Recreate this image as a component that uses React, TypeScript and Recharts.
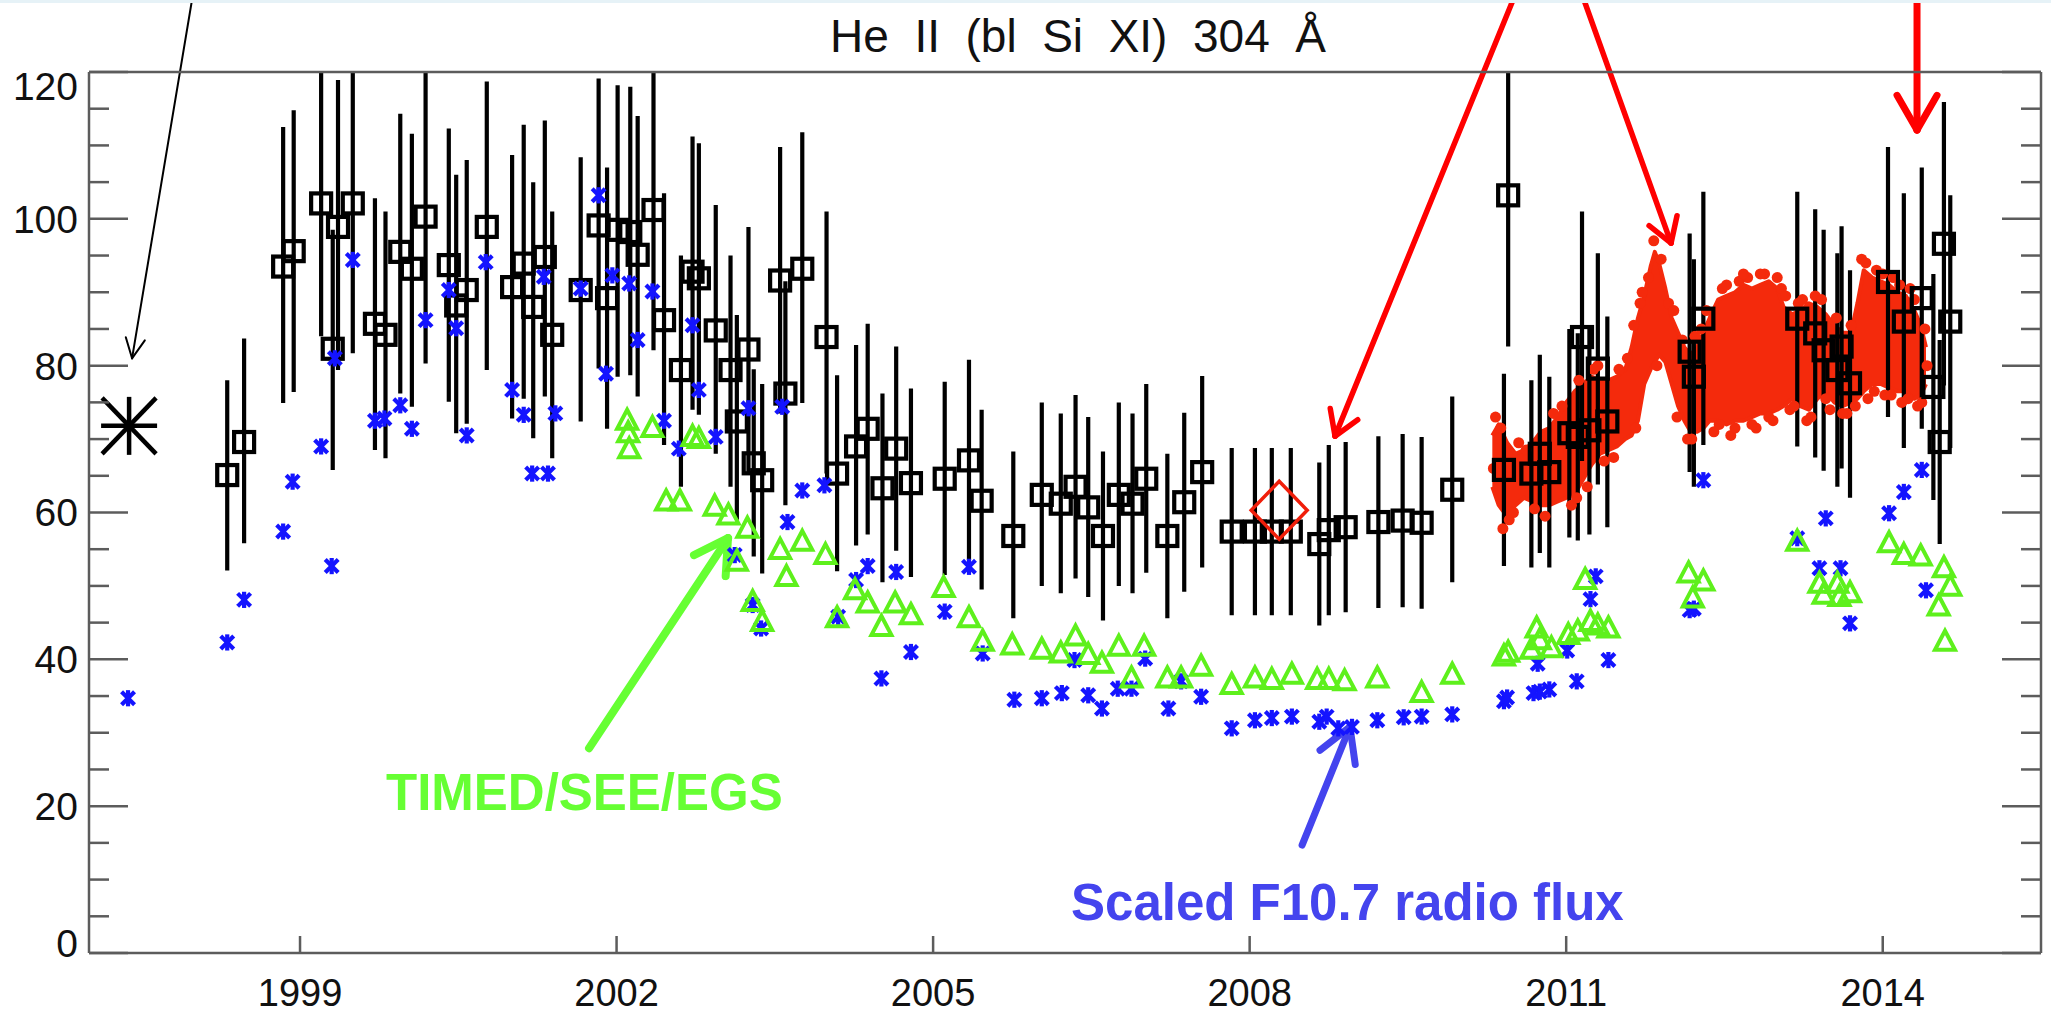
import React from "react";
import { ComposedChart, XAxis, YAxis, Scatter, ErrorBar, Area, ReferenceLine } from "recharts";

// ---------------- data ----------------
const X_TICKS = [1999, 2002, 2005, 2008, 2011, 2014];
const Y_TICKS = [0, 5, 10, 15, 20, 25, 30, 35, 40, 45, 50, 55, 60, 65, 70, 75, 80, 85, 90, 95, 100, 105, 110, 115, 120];
const Y_LABELED = [0, 20, 40, 60, 80, 100, 120];

const TITLE = "He  II  (bl  Si  XI)  304  Å";
const LABEL_TIMED = "TIMED/SEE/EGS";
const LABEL_F107 = "Scaled F10.7 radio flux";

// black open squares: [year, flux, error bar low end, error bar high end (120 = runs to the frame)]
const EUV_SQUARES: number[][] = [
  [1998.31, 65.1, 52.1, 78.0], [1998.47, 69.6, 55.8, 83.7], [1998.84, 93.5, 74.9, 112.5], [1998.94, 95.6, 76.4, 114.8],
  [1999.2, 102.1, 84.0, 120], [1999.31, 82.3, 65.8, 98.5], [1999.36, 98.9, 79.4, 118.9], [1999.5, 102.1, 81.7, 120],
  [1999.71, 85.7, 68.5, 102.8], [1999.81, 84.2, 67.4, 101.0], [1999.95, 95.5, 76.2, 114.3], [2000.06, 93.2, 74.4, 111.6],
  [2000.19, 100.3, 80.3, 120], [2000.41, 93.7, 75.1, 112.3], [2000.48, 88.2, 70.8, 106.0], [2000.58, 90.3, 72.1, 108.0],
  [2000.77, 98.9, 79.4, 118.7], [2001.01, 90.7, 72.8, 108.7], [2001.12, 93.9, 75.5, 112.8], [2001.21, 88.0, 70.1, 105.0],
  [2001.32, 94.8, 75.8, 113.4], [2001.39, 84.2, 67.4, 101.0], [2001.66, 90.3, 72.4, 108.4], [2001.83, 99.1, 79.6, 119.1],
  [2001.91, 89.2, 71.4, 107.0], [2002.01, 98.5, 78.5, 118.2], [2002.13, 98.2, 78.7, 118.0], [2002.2, 95.1, 75.8, 114.0],
  [2002.35, 101.2, 82.1, 120], [2002.45, 86.2, 69.2, 103.5], [2002.61, 79.4, 63.5, 95.0], [2002.72, 92.8, 74.0, 111.2],
  [2002.78, 91.9, 73.3, 110.3], [2002.94, 84.8, 68.0, 101.9], [2003.08, 79.4, 63.5, 95.0], [2003.14, 72.4, 59.0, 86.9],
  [2003.25, 82.2, 65.5, 98.9], [2003.3, 66.7, 54.0, 79.5], [2003.38, 64.4, 51.7, 77.5], [2003.55, 91.6, 73.5, 109.8],
  [2003.6, 76.2, 61.0, 91.5], [2003.76, 93.2, 74.9, 111.8], [2003.99, 83.9, 65.3, 101.0], [2004.09, 65.3, 52.0, 78.7],
  [2004.27, 69.0, 55.5, 82.8], [2004.38, 71.4, 57.0, 85.7], [2004.52, 63.3, 50.5, 76.2], [2004.65, 68.7, 54.8, 82.6],
  [2004.79, 64.0, 51.2, 76.9], [2005.11, 64.6, 51.5, 77.8], [2005.34, 67.1, 53.5, 80.8], [2005.46, 61.6, 49.5, 74.0],
  [2005.76, 56.8, 45.6, 68.3], [2006.03, 62.4, 50.0, 75.0], [2006.21, 61.2, 49.0, 73.5], [2006.35, 63.5, 51.0, 76.0],
  [2006.47, 60.7, 48.5, 73.0], [2006.61, 56.8, 45.3, 68.3], [2006.76, 62.4, 50.0, 75.0], [2006.89, 61.2, 49.0, 73.5],
  [2007.02, 64.6, 51.8, 77.5], [2007.22, 56.8, 45.6, 68.0], [2007.38, 61.4, 49.2, 73.6], [2007.55, 65.5, 52.5, 78.6],
  [2007.83, 57.4, 46.0, 68.8], [2008.05, 57.4, 46.0, 68.8], [2008.21, 57.4, 46.0, 68.8], [2008.39, 57.4, 46.0, 68.8],
  [2008.66, 55.7, 44.6, 66.8], [2008.75, 57.6, 46.0, 69.2], [2008.91, 58.0, 46.4, 69.6], [2009.22, 58.7, 47.0, 70.4],
  [2009.45, 58.9, 47.1, 70.7], [2009.63, 58.6, 46.9, 70.3], [2009.92, 63.1, 50.5, 75.8], [2010.41, 65.8, 52.7, 78.9],
  [2010.45, 103.2, 82.6, 120], [2010.67, 65.3, 52.5, 78.0], [2010.75, 68.0, 54.5, 81.5], [2010.84, 65.5, 52.5, 78.5],
  [2011.03, 70.8, 56.6, 85.0], [2011.11, 70.3, 56.2, 84.4], [2011.15, 83.9, 67.0, 101.0], [2011.22, 71.2, 57.0, 85.4],
  [2011.3, 79.6, 63.8, 95.3], [2011.39, 72.4, 58.0, 86.7], [2012.17, 81.9, 65.5, 98.0], [2012.21, 78.5, 63.5, 94.5],
  [2012.3, 86.4, 69.2, 103.7], [2013.19, 86.4, 69.0, 103.7], [2013.36, 84.4, 67.5, 101.3], [2013.44, 82.1, 65.7, 98.5],
  [2013.57, 79.4, 63.5, 95.3], [2013.61, 82.6, 66.0, 99.0], [2013.69, 77.6, 62.0, 93.0], [2014.05, 91.4, 73.0, 109.8],
  [2014.2, 86.0, 68.8, 103.5], [2014.37, 89.2, 71.4, 107.0], [2014.48, 77.1, 61.7, 92.5], [2014.54, 69.6, 55.7, 83.5],
  [2014.58, 96.6, 77.3, 115.9], [2014.64, 86.0, 68.8, 103.2],
];

// blue: scaled F10.7 radio flux [year, value]
const F107_SCALED: number[][] = [
  [1997.37, 34.7], [1998.31, 42.3], [1998.47, 48.1], [1998.84, 57.4], [1998.93, 64.2], [1999.2, 69.0], [1999.3, 52.7],
  [1999.33, 81.0], [1999.5, 94.4], [1999.71, 72.5], [1999.8, 72.8], [1999.95, 74.6], [2000.06, 71.4], [2000.19, 86.2],
  [2000.41, 90.3], [2000.48, 85.1], [2000.58, 70.5], [2000.76, 94.1], [2001.01, 76.7], [2001.12, 73.3], [2001.2, 65.3],
  [2001.31, 92.1], [2001.35, 65.3], [2001.42, 73.5], [2001.66, 90.5], [2001.83, 103.2], [2001.9, 78.9], [2001.96, 92.3],
  [2002.12, 91.2], [2002.2, 83.5], [2002.34, 90.1], [2002.45, 72.5], [2002.59, 68.7], [2002.72, 85.5], [2002.78, 76.7],
  [2002.94, 70.3], [2003.12, 54.2], [2003.25, 74.2], [2003.29, 47.4], [2003.37, 44.2], [2003.57, 74.4], [2003.62, 58.7],
  [2003.76, 63.0], [2003.97, 63.7], [2004.1, 45.8], [2004.27, 50.8], [2004.38, 52.7], [2004.51, 37.4], [2004.65, 51.9],
  [2004.79, 41.0], [2005.11, 46.5], [2005.34, 52.6], [2005.47, 40.8], [2005.77, 34.5], [2006.03, 34.7], [2006.22, 35.4],
  [2006.34, 39.9], [2006.47, 35.1], [2006.6, 33.3], [2006.75, 36.0], [2006.88, 36.0], [2007.01, 40.1], [2007.23, 33.3],
  [2007.35, 37.0], [2007.54, 34.9], [2007.83, 30.6], [2008.05, 31.7], [2008.21, 32.0], [2008.4, 32.2], [2008.66, 31.5],
  [2008.73, 32.2], [2008.84, 30.6], [2008.97, 30.8], [2009.21, 31.7], [2009.46, 32.1], [2009.63, 32.2], [2009.92, 32.5],
  [2010.41, 34.3], [2010.44, 34.8], [2010.69, 35.4], [2010.75, 35.6], [2010.84, 35.9], [2010.73, 39.4], [2011.01, 41.2],
  [2011.1, 37.0], [2011.23, 48.2], [2011.28, 51.3], [2011.4, 39.9], [2012.17, 46.7], [2012.21, 46.9], [2012.3, 64.4],
  [2013.19, 56.5], [2013.4, 52.4], [2013.46, 59.2], [2013.6, 52.4], [2013.69, 44.9], [2014.06, 59.9], [2014.2, 62.8],
  [2014.37, 65.8], [2014.41, 49.4],
];

// green: TIMED/SEE/EGS [year, value]
const TIMED_SEE: number[][] = [
  [2002.1, 72.5], [2002.11, 70.8], [2002.12, 68.6], [2002.34, 71.5], [2002.47, 61.5], [2002.6, 61.5], [2002.72, 70.3],
  [2002.78, 70.0], [2002.93, 60.8], [2003.06, 59.6], [2003.14, 53.3], [2003.24, 57.8], [2003.29, 47.8], [2003.38, 45.1],
  [2003.55, 54.9], [2003.61, 51.2], [2003.76, 56.0], [2003.98, 54.2], [2004.09, 45.6], [2004.26, 49.4], [2004.38, 47.6],
  [2004.51, 44.4], [2004.64, 47.6], [2004.79, 46.0], [2005.1, 49.7], [2005.34, 45.6], [2005.47, 42.4], [2005.75, 41.9],
  [2006.03, 41.3], [2006.21, 40.8], [2006.35, 43.1], [2006.47, 40.6], [2006.6, 39.4], [2006.76, 41.7], [2006.88, 37.4],
  [2007.0, 41.7], [2007.22, 37.4], [2007.35, 37.4], [2007.54, 39.0], [2007.83, 36.5], [2008.05, 37.4], [2008.21, 37.2],
  [2008.4, 37.9], [2008.64, 37.2], [2008.75, 37.2], [2008.9, 37.0], [2009.21, 37.4], [2009.63, 35.4], [2009.92, 37.9],
  [2010.41, 40.4], [2010.45, 40.9], [2010.67, 41.3], [2010.72, 44.2], [2010.75, 42.6], [2010.86, 41.5], [2011.02, 43.3],
  [2011.11, 43.8], [2011.18, 50.8], [2011.23, 45.1], [2011.3, 44.6], [2011.4, 44.2], [2012.16, 51.7], [2012.2, 48.3],
  [2012.3, 50.6], [2013.19, 56.0], [2013.4, 50.3], [2013.44, 48.8], [2013.57, 50.3], [2013.59, 48.5], [2013.69, 49.0],
  [2014.06, 55.8], [2014.2, 54.2], [2014.36, 54.0], [2014.53, 47.2], [2014.58, 52.4], [2014.59, 42.4], [2014.64, 49.9],
];

// red: dense daily measurements, core envelope [year, low, high]
const DAILY_BAND: number[][] = [
  [2010.3, 63.5, 70.5], [2010.36, 61, 72], [2010.44, 59.5, 69.5], [2010.52, 61, 68], [2010.6, 62, 68.5], [2010.68, 61.5, 69.5],
  [2010.76, 61, 71], [2010.84, 61, 71.5], [2010.92, 61.5, 73], [2011.0, 62, 75], [2011.08, 62.5, 76.5], [2011.16, 64.5, 77.5],
  [2011.24, 66.5, 78.5], [2011.32, 68, 78], [2011.4, 68.5, 78], [2011.48, 69, 78.5], [2011.56, 70, 79.5], [2011.62, 70.5, 82.5],
  [2011.68, 72.5, 86.5], [2011.74, 77.5, 89.5], [2011.8, 79.5, 93.5], [2011.84, 80.5, 95.5], [2011.88, 81.5, 94], [2011.94, 80.5, 90.5],
  [2012.0, 77.5, 86.5], [2012.06, 74.5, 84.5], [2012.12, 72.5, 82.5], [2012.18, 71, 81.5], [2012.24, 71, 82.5], [2012.3, 71.5, 84.5],
  [2012.36, 72.5, 86.5], [2012.44, 72.5, 89], [2012.52, 72, 89.5], [2012.6, 72.5, 90], [2012.68, 72.5, 91], [2012.76, 73, 90.5],
  [2012.84, 73.5, 91], [2012.92, 73.5, 91.5], [2013.0, 74, 90.5], [2013.06, 74.5, 88], [2013.14, 75.5, 87], [2013.22, 74.5, 87.5],
  [2013.3, 74, 88.5], [2013.38, 75.5, 88], [2013.46, 76.5, 87], [2013.54, 75, 85.5], [2013.62, 74.5, 84.5], [2013.7, 75, 84.5],
  [2013.76, 75.5, 88.5], [2013.82, 76.5, 93], [2013.9, 77.5, 92], [2013.98, 77.5, 91.5], [2014.06, 77, 91], [2014.14, 76.5, 90],
  [2014.22, 76.5, 89.5], [2014.3, 75.5, 87.5], [2014.36, 76, 85.5], [2014.41, 77.5, 82.5],
];

// red: individual daily points standing out along the band's ragged edges [year, value]
const DAILY_DOTS: number[][] = [
  [2010.33, 73.0], [2010.4, 57.8], [2010.46, 59.0], [2010.55, 69.5], [2010.7, 60.5], [2010.88, 73.5], [2011.05, 61.0],
  [2011.12, 78.0], [2011.2, 63.5], [2011.3, 80.0], [2011.45, 67.5], [2011.58, 81.0], [2011.64, 85.5], [2011.7, 88.5],
  [2011.78, 92.0], [2011.83, 97.0], [2011.9, 94.5], [2011.97, 88.5], [2012.05, 73.0], [2012.15, 70.0], [2012.22, 84.0],
  [2012.33, 87.5], [2012.4, 71.0], [2012.48, 90.5], [2012.56, 70.5], [2012.64, 91.5], [2012.72, 92.0], [2012.8, 71.5],
  [2012.88, 92.5], [2012.96, 72.5], [2013.04, 90.5], [2013.12, 74.0], [2013.2, 88.5], [2013.28, 72.5], [2013.36, 89.5],
  [2013.5, 74.0], [2013.66, 73.5], [2013.8, 94.5], [2013.86, 75.5], [2013.94, 93.0], [2014.02, 76.0], [2014.1, 92.0],
  [2014.18, 75.0], [2014.26, 90.5], [2014.33, 74.5], [2014.4, 85.0],
  [2010.31, 66.0], [2010.38, 71.5], [2010.5, 60.0], [2010.62, 68.5], [2010.8, 59.5], [2010.96, 74.5], [2011.1, 62.0],
  [2011.26, 79.5], [2011.36, 67.0], [2011.5, 79.5], [2011.66, 71.5], [2011.72, 90.0], [2011.86, 80.0], [2012.02, 87.5],
  [2012.1, 83.5], [2012.19, 70.0], [2012.28, 85.0], [2012.45, 72.0], [2012.52, 91.0], [2012.6, 71.5], [2012.68, 92.5],
  [2012.76, 72.0], [2012.84, 92.5], [2012.92, 73.0], [2013.0, 92.0], [2013.08, 89.5], [2013.16, 74.5], [2013.24, 89.0],
  [2013.32, 73.0], [2013.42, 89.0], [2013.46, 75.5], [2013.56, 86.5], [2013.62, 73.5], [2013.7, 85.5], [2013.74, 74.5],
  [2013.84, 94.0], [2013.92, 76.5], [2014.0, 92.5], [2014.08, 76.0], [2014.16, 91.0], [2014.24, 75.5], [2014.3, 89.0],
  [2014.37, 75.0], [2014.42, 80.0],
];

const EARLY_REFERENCE: number[][] = [[1997.38, 71.8]]; // black asterisk
const ROCKET_POINT: number[][] = [[2008.28, 60.3]]; // red diamond

// annotation arrows [tail year, tail value, tip year, tip value]
const ARROW_EARLY = [1997.976, 129.8, 1997.408, 81.0];
const ARROW_RED_1 = [2010.496, 129.8, 2008.809, 70.4];
const ARROW_RED_2 = [2011.169, 129.8, 2011.994, 96.7];
const ARROW_RED_3 = [2014.325, 129.8, 2014.325, 112.1];
const ARROW_TIMED = [2001.739, 27.9, 2003.056, 56.5];
const ARROW_F107 = [2008.497, 14.7, 2008.951, 30.8];

// ---------------- layout / style ----------------
const W = 2051;
const H = 1014;
const M = { top: 72, right: 10, bottom: 61, left: 89 };
const X_DOMAIN: [number, number] = [1997, 2015.5];
const Y_DOMAIN: [number, number] = [0, 120];
const PX_X = (W - M.left - M.right) / (X_DOMAIN[1] - X_DOMAIN[0]);
const PX_Y = (H - M.top - M.bottom) / (Y_DOMAIN[1] - Y_DOMAIN[0]);

const AXIS = "#5c5c5c";
const FONT = "'Liberation Sans', Arial, Helvetica, sans-serif";
const RED = "#f42a0c";
const GREEN = "#5ef01c";
const BLUE = "#1414ff";

const squares = EUV_SQUARES.map(([x, y, lo, hi]) => ({ x, y, err: [y - lo, hi - y] }));
const blue = F107_SCALED.map(([x, y]) => ({ x, y }));
const green = TIMED_SEE.map(([x, y]) => ({ x, y }));
const band = DAILY_BAND.map(([x, lo, hi]) => ({ x, band: [lo, hi] }));
const dots = DAILY_DOTS.map(([x, y]) => ({ x, y }));
const early = EARLY_REFERENCE.map(([x, y]) => ({ x, y }));
const rocket = ROCKET_POINT.map(([x, y]) => ({ x, y }));

type Seg = [{ x: number; y: number }, { x: number; y: number }];
function arrowSegments(a: number[], headLen: number, angleDeg: number): Seg[] {
  const [x0, y0, x1, y1] = a;
  const dx = (x1 - x0) * PX_X;
  const dy = -(y1 - y0) * PX_Y;
  const len = Math.hypot(dx, dy);
  const ux = dx / len;
  const uy = dy / len;
  const segs: Seg[] = [[{ x: x0, y: y0 }, { x: x1, y: y1 }]];
  for (const s of [-1, 1]) {
    const t = (s * angleDeg * Math.PI) / 180;
    const bx = -(ux * Math.cos(t) - uy * Math.sin(t)) * headLen;
    const by = -(ux * Math.sin(t) + uy * Math.cos(t)) * headLen;
    segs.push([{ x: x1, y: y1 }, { x: x1 + bx / PX_X, y: y1 - by / PX_Y }]);
  }
  return segs;
}

const ARROWS = [
  { segs: arrowSegments(ARROW_EARLY, 22, 26), color: "#000", width: 2 },
  { segs: arrowSegments(ARROW_RED_1, 28, 32), color: "#ff0000", width: 5.5 },
  { segs: arrowSegments(ARROW_RED_2, 28, 32), color: "#ff0000", width: 5.5 },
  { segs: arrowSegments(ARROW_RED_3, 40, 30), color: "#ff0000", width: 7 },
  { segs: arrowSegments(ARROW_TIMED, 38, 30), color: "#66ff33", width: 8 },
  { segs: arrowSegments(ARROW_F107, 38, 30), color: "#4444ee", width: 7 },
];

// ---------------- marks ----------------
const SquareMark = (p: any) => (
  <rect x={p.cx - 10} y={p.cy - 10} width={20} height={20} fill="none" stroke="#000" strokeWidth={4.2} />
);
const StarMark = (p: any) => (
  <g stroke={BLUE} strokeWidth={4.2} strokeLinecap="square">
    <line x1={p.cx - 5} y1={p.cy - 5} x2={p.cx + 5} y2={p.cy + 5} />
    <line x1={p.cx - 5} y1={p.cy + 5} x2={p.cx + 5} y2={p.cy - 5} />
    <line x1={p.cx} y1={p.cy - 6} x2={p.cx} y2={p.cy + 6} />
  </g>
);
const TriangleMark = (p: any) => (
  <polygon
    points={`${p.cx},${p.cy - 11} ${p.cx + 10},${p.cy + 8} ${p.cx - 10},${p.cy + 8}`}
    fill="none"
    stroke={GREEN}
    strokeWidth={4}
    strokeLinejoin="miter"
  />
);
const DotMark = (p: any) => <circle cx={p.cx} cy={p.cy} r={5.5} fill={RED} />;
const BigAsterisk = (p: any) => (
  <g stroke="#000" strokeWidth={4.5}>
    <line x1={p.cx - 28} y1={p.cy} x2={p.cx + 28} y2={p.cy} />
    <line x1={p.cx} y1={p.cy - 29} x2={p.cx} y2={p.cy + 29} />
    <line x1={p.cx - 27} y1={p.cy - 28} x2={p.cx + 27} y2={p.cy + 28} />
    <line x1={p.cx - 27} y1={p.cy + 28} x2={p.cx + 27} y2={p.cy - 28} />
  </g>
);
const DiamondMark = (p: any) => (
  <polygon
    points={`${p.cx},${p.cy - 29} ${p.cx + 28},${p.cy} ${p.cx},${p.cy + 29} ${p.cx - 28},${p.cy}`}
    fill="none"
    stroke="#f01e0a"
    strokeWidth={3.5}
  />
);

// ---------------- ticks ----------------
const LeftTick = (p: any) => {
  const v = p.payload.value;
  const major = Y_LABELED.includes(v);
  const shift = v === 0 ? -10 : v === 120 ? 14 : 0;
  return (
    <g>
      <line x1={p.x} y1={p.y} x2={p.x + (major ? 39 : 20)} y2={p.y} stroke={AXIS} strokeWidth={2.5} />
      {major && (
        <text x={p.x - 11} y={p.y + shift} dy="0.355em" textAnchor="end" fontSize={39} fontFamily={FONT} fill="#111">
          {v}
        </text>
      )}
    </g>
  );
};
const RightTick = (p: any) => {
  const major = Y_LABELED.includes(p.payload.value);
  return <line x1={p.x} y1={p.y} x2={p.x - (major ? 39 : 20)} y2={p.y} stroke={AXIS} strokeWidth={2.5} />;
};
const BottomTick = (p: any) => (
  <g>
    <line x1={p.x} y1={p.y} x2={p.x} y2={p.y - 17} stroke={AXIS} strokeWidth={2.5} />
    <text x={p.x} y={p.y + 53} textAnchor="middle" fontSize={38} fontFamily={FONT} fill="#111">
      {p.payload.value}
    </text>
  </g>
);
const TopTick = (p: any) => <line x1={p.x} y1={p.y} x2={p.x} y2={p.y + 18} stroke={AXIS} strokeWidth={2.5} />;

export default function App() {
  const axisLine = { stroke: AXIS, strokeWidth: 2.5 };
  return (
    <div style={{ position: "relative", width: W, height: H, background: "#fff" }}>
      <style>{"body{margin:0;background:#fff}"}</style>
      <ComposedChart width={W} height={H} data={band} margin={{ top: 0, right: 0, bottom: 0, left: 0 }}>
        <XAxis
          dataKey="x"
          type="number"
          domain={X_DOMAIN}
          allowDataOverflow
          ticks={X_TICKS}
          interval={0}
          height={M.bottom}
          tickSize={0}
          tickMargin={0}
          tickLine={false}
          axisLine={axisLine}
          tick={(p: any) => <BottomTick {...p} />}
        />
        <XAxis
          xAxisId="top"
          orientation="top"
          type="number"
          domain={X_DOMAIN}
          allowDataOverflow
          ticks={X_TICKS}
          interval={0}
          height={M.top}
          tickSize={0}
          tickMargin={0}
          tickLine={false}
          axisLine={axisLine}
          tick={(p: any) => <TopTick {...p} />}
        />
        <YAxis
          type="number"
          domain={Y_DOMAIN}
          allowDataOverflow
          ticks={Y_TICKS}
          interval={0}
          width={M.left}
          tickSize={0}
          tickMargin={0}
          tickLine={false}
          axisLine={axisLine}
          tick={(p: any) => <LeftTick {...p} />}
        />
        <YAxis
          yAxisId="right"
          orientation="right"
          type="number"
          domain={Y_DOMAIN}
          allowDataOverflow
          ticks={Y_TICKS}
          interval={0}
          width={M.right}
          tickSize={0}
          tickMargin={0}
          tickLine={false}
          axisLine={axisLine}
          tick={(p: any) => <RightTick {...p} />}
        />
        <Area
          dataKey="band"
          type="linear"
          fill={RED}
          fillOpacity={1}
          stroke={RED}
          strokeWidth={4}
          strokeLinejoin="round"
          dot={false}
          activeDot={false}
          isAnimationActive={false}
        />
        <Scatter data={dots} dataKey="y" shape={DotMark} isAnimationActive={false} />
        <Scatter data={squares} dataKey="y" shape={SquareMark} isAnimationActive={false}>
          <ErrorBar dataKey="err" direction="y" width={0} stroke="#000" strokeWidth={4.2} isAnimationActive={false} />
        </Scatter>
        <Scatter data={blue} dataKey="y" shape={StarMark} isAnimationActive={false} />
        <Scatter data={green} dataKey="y" shape={TriangleMark} isAnimationActive={false} />
        <Scatter data={rocket} dataKey="y" shape={DiamondMark} isAnimationActive={false} />
        <Scatter data={early} dataKey="y" shape={BigAsterisk} isAnimationActive={false} />
        {ARROWS.flatMap((a, i) =>
          a.segs.map((s, j) => (
            <ReferenceLine
              key={`a${i}-${j}`}
              segment={s}
              ifOverflow="visible"
              stroke={a.color}
              strokeWidth={a.width}
              strokeLinecap="round"
            />
          ))
        )}
      </ComposedChart>
      <div style={{ position: "absolute", left: 0, top: 0, width: W, height: 3, background: "#e6f2f7" }} />
      <svg width={W} height={H} style={{ position: "absolute", left: 0, top: 0, pointerEvents: "none" }}>
        <text x={1078} y={52} textAnchor="middle" fontSize={46} fontFamily={FONT} fill="#111" style={{ whiteSpace: "pre" }}>
          {TITLE}
        </text>
        <text x={386} y={810} fontSize={51} fontWeight="bold" fontFamily={FONT} fill="#66ff33">
          {LABEL_TIMED}
        </text>
        <text x={1071} y={920} fontSize={51} fontWeight="bold" fontFamily={FONT} fill="#4444ee">
          {LABEL_F107}
        </text>
      </svg>
    </div>
  );
}
